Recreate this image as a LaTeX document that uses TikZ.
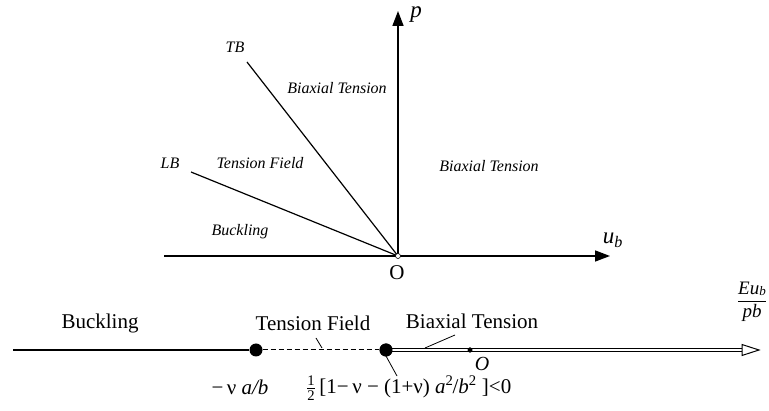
\documentclass[tikz,border=0pt]{standalone}
\usepackage{amsmath}
\usepackage{fontspec}
\setmainfont{Liberation Serif}
\usetikzlibrary{arrows.meta}
\begin{document}
\begin{tikzpicture}[x=1pt, y=-1pt,
  reg/.style={font=\fontsize{16}{18}\selectfont\itshape, inner sep=0pt},
  big/.style={font=\fontsize{21}{24}\selectfont, inner sep=0pt},
  sym/.style={font=\fontsize{23}{26}\selectfont\itshape, inner sep=0pt},
  ax/.style={line width=1.6pt, -{Triangle[length=15pt,width=11pt]}},
  bnd/.style={line width=1.2pt},
  lead/.style={line width=0.8pt},
  bigdot/.style={circle, fill=black, inner sep=0pt, minimum size=13pt},
  smalldot/.style={circle, fill=black, inner sep=0pt, minimum size=5pt},
  odot/.style={circle, draw, fill=white, line width=0.6pt, inner sep=0pt, minimum size=5pt},
]
  \useasboundingbox (0,0) rectangle (769,411);

  \coordinate (O) at (398,256);
  \coordinate (xs) at (164,256);
  \coordinate (xe) at (610,256);
  \coordinate (ye) at (398,11);
  \coordinate (lb) at (191,172);
  \coordinate (tb) at (247,62);

  \draw[bnd] (lb) -- (O);
  \draw[bnd] (tb) -- (O);
  \draw[ax] (xs) -- (xe);
  \draw[ax] (O) -- (ye);
  \node[odot] (o) at (O) {};

  \node[sym] (p) at (416,15) {p};
  \node[sym] (u) at (613,240) {u\textsubscript{\itshape b}};
  \node[big] (oo) at (397,273) {O};
  \node[reg] (t) at (235,47) {TB};
  \node[reg] (l) at (170,163) {LB};
  \node[reg] (r1) at (337,88) {Biaxial Tension};
  \node[reg] (r2) at (260,163) {Tension Field};
  \node[reg] (r3) at (489,166) {Biaxial Tension};
  \node[reg] (r4) at (240,232) {Buckling};

  \coordinate (bs) at (13,350);
  \node[bigdot] (d1) at (256,350) {};
  \node[bigdot] (d2) at (386,350) {};
  \node[smalldot] (d0) at (470,350) {};
  \coordinate (be) at (742,350);
  \draw[line width=1.3pt] (bs) -- (d1);
  \draw[line width=1pt, dashed, dash pattern=on 5pt off 3pt] (d1) -- (d2);
  \draw[line width=1pt, double, double distance=2.4pt] (d2.center) -- (be);
  \draw[line width=1pt, fill=white] (742,344.5) -- (759,350) -- (742,355.5) -- cycle;
  \node[bigdot] at (d2) {};
  \node[smalldot] at (d0) {};

  \node[big] (b1) at (100,323) {Buckling};
  \node[big] (b2) at (313,323) {Tension Field};
  \node[big] (b3) at (472,321) {Biaxial Tension};
  \node[big, font=\fontsize{20}{24}\selectfont\itshape] (b4) at (482,364) {O};
  \node[big] (v1) at (240,387) {−\,ν \textit{a/b}};
  \node[big, anchor=west] (v2) at (306,388)
    {$\frac{\text{1}}{\text{2}}$\,[1−\,ν − (1+ν) \textit{a}\textsuperscript{2}\kern-1pt/\textit{b}\textsuperscript{2} ]<0};
  \node[big, font=\fontsize{19}{22}\selectfont] (f) at (752,302)
    {$\dfrac{\text{\itshape Eu\raisebox{-1pt}{\fontsize{13}{13}\selectfont b}}}{\text{\itshape pb}}$};

  \draw[lead] (316,338) -- (322,348);
  \draw[lead] (455,335) -- (425,348);
  \draw[lead] (d2) ++(0,6) -- (397,376);
\end{tikzpicture}
\end{document}
